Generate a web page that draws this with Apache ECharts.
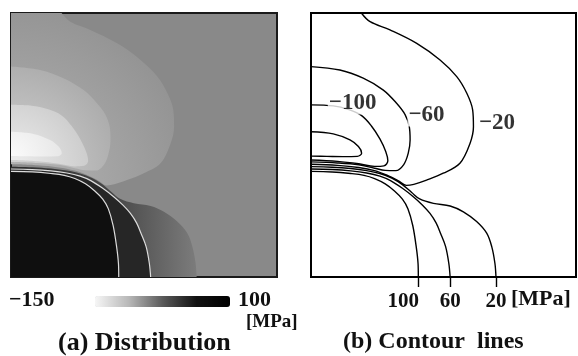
<!DOCTYPE html>
<html><head><meta charset="utf-8">
<script src="https://cdn.jsdelivr.net/npm/echarts@6/dist/echarts.min.js"></script>
<style>html,body{margin:0;padding:0;background:#fff}#c{width:578px;height:356px}</style>
</head><body><div id="c"></div>
<script>
// ---- data (domain: x,y in % of the square plate, origin bottom-left) ----
const contourLevels = [100, 60, 20, -20, -60, -100, -140];
const c100 = [[0,40.0],[8,39.8],[15,39.2],[20,38.5],[24,37.3],[28,35.3],[31.5,32.6],[34.5,29.5],[36.6,25.8],[38.4,19.5],[39.7,11.5],[40.4,5],[40.5,0]];
const c60 = [[0,40.9],[8,40.7],[15,40.2],[21,39.4],[26,38.2],[30,36.5],[34.5,33.6],[38.6,30.4],[42,27.3],[44.9,24.1],[47.2,20.5],[48.9,16.5],[50.8,11.5],[52,5.2],[52.5,0]];
const c20 = [[0,41.8],[8,41.6],[15,41.1],[21,40.3],[26,39.2],[30.5,37.5],[34.5,35],[38,32],[41,29.6],[46.2,27.9],[52.5,26.9],[57.5,24.7],[62.5,21],[66.3,16.6],[68.2,11.5],[69.4,5.2],[69.8,0]];
const cm20 = [[19,100],[22.3,96.7],[29.8,93.6],[39.9,88.5],[48.7,82.2],[55,75.9],[58.8,69.6],[61,63.3],[61.3,56.9],[60,50.6],[56.2,43.1],[49.9,39.3],[43.6,36.7],[38.8,35.1],[36,34.7],[33,36.4],[29,38.4],[24,40.3],[18,41.5],[10,42.3],[0,42.7]];
const cm60 = [[0,79.7],[10.9,78.4],[19.7,75.3],[27.3,70.8],[32.3,65.8],[35.5,61.5],[37.1,56.9],[37.4,51.9],[36.7,46.9],[35,42.6],[32,40.3],[28,40.4],[24,41.2],[18,42.5],[10,43.2],[0,43.6]];
const cm100 = [[0,65.2],[8.4,64.8],[14,63.5],[19,61.2],[22.8,57.2],[26,52.3],[28.2,47.5],[29,44],[27.5,42.1],[24,41.9],[18,42.9],[10,43.8],[0,44.3]];
const cm140 = [[0,55],[8.4,54.2],[14.7,51.9],[17.9,49.4],[19.1,46.9],[17.5,45.7],[12,45.6],[6,45.7],[0,45.8]];
const contourNames = ['100','60','20','−20','−60','−100','−140'];
const inPlotLabels = ['−100','−60','−20'];
const inPlotLabelPos = [[15.7,65.9],[43.6,61.4],[70.2,58.3]];
const bottomLabels = ['100','60','20'];
const colorbarRange = [-150, 100];

// ---- build ----
const contours = [c100, c60, c20, cm20, cm60, cm100, cm140];
const radial = (a, b) => ({type:'radial', x:0, y:1, r:1.15, colorStops:[{offset:0, color:a},{offset:1, color:b}]});
const fillFor = {
  100:'#0f0f0f',
  60:'#262626',
  20:{type:'linear', x:0, y:0, x2:1, y2:0, colorStops:[{offset:0,color:'#2e2e2e'},{offset:0.55,color:'#474747'},{offset:1,color:'#7c7c7c'}]},
  '-20': radial('#b6b6b6','#939393'),
  '-60': radial('#d6d6d6','#ababab'),
  '-100': radial('#eeeeee','#c8c8c8'),
  '-140': radial('#fbfbfb','#e4e4e4')
};
const serif = 'Liberation Serif';
const series = [];
// panel (a): filled bands, negatives first (lighter inside), then positives
[3,4,5,6,2,1,0].forEach(i => {
  const lv = contourLevels[i];
  series.push({
    type:'line', xAxisIndex:0, yAxisIndex:0, data: contours[i], smooth:0.35,
    showSymbol:false, silent:true, lineStyle:{width:0, opacity:0},
    areaStyle:{origin: lv > 0 ? 'start' : 'end', color: fillFor[lv], opacity:1}
  });
});
// panel (a): light contour lines for 100 and 60
[0,1].forEach(i => series.push({
  type:'line', xAxisIndex:0, yAxisIndex:0, data: contours[i], smooth:0.35,
  showSymbol:false, silent:true, lineStyle:{width:1.2, color:'#dcdcdc'}
}));
// dummy target for the colour bar
series.push({type:'scatter', xAxisIndex:0, yAxisIndex:0, data:[], silent:true});
const vmIndex = series.length - 1;
// panel (b): contour lines
contours.forEach((d,i) => series.push({
  name: contourNames[i], type:'line', xAxisIndex:1, yAxisIndex:1, data:d, smooth:0.35,
  showSymbol:false, silent:true, lineStyle:{width:1.4, color:'#000'}, z:3
}));
// panel (b): labels
series.push({
  type:'scatter', xAxisIndex:1, yAxisIndex:1, symbolSize:0, silent:true, z:5,
  data: inPlotLabels.map((t,i) => ({name:t, value:inPlotLabelPos[i]})),
  label:{show:true, position:'inside', formatter:'{b}', fontFamily:serif, fontWeight:'bold',
    fontSize:23, color:'#000', backgroundColor:'#fff', padding:[0,1]}
});

const tickPos = [c100, c60, c20].map(d => d[d.length-1][0]);

const hiddenAxis = (g) => ({gridIndex:g, type:'value', min:0, max:100, show:false});
const option = {
  animation:false,
  backgroundColor:'#fff',
  grid:[
    {left:11, top:13, width:266, height:264, show:true, backgroundColor:'#898989', borderColor:'#1a1a1a', borderWidth:2},
    {left:311, top:13, width:265, height:264, show:true, backgroundColor:'#fff', borderColor:'#000', borderWidth:2}
  ],
  xAxis:[
    hiddenAxis(0),
    {gridIndex:1, type:'value', min:0, max:100, axisLine:{show:false}, splitLine:{show:false},
     axisTick:{show:true, customValues:tickPos, length:10, inside:false, lineStyle:{color:'#000', width:1.4}},
     axisLabel:{show:true, customValues:tickPos, margin:14,
       formatter: v => { const k = tickPos.indexOf(v); return k === 0 ? '{l|' + bottomLabels[k] + '}' : '{n|' + bottomLabels[k] + '}'; },
       rich:{
         l:{fontFamily:serif, fontWeight:'bold', fontSize:21, color:'#111', padding:[0,30,0,0]},
         n:{fontFamily:serif, fontWeight:'bold', fontSize:21, color:'#111'}
       }}}
  ],
  yAxis:[hiddenAxis(0), hiddenAxis(1)],
  visualMap:{
    type:'continuous', seriesIndex:vmIndex, min:colorbarRange[0], max:colorbarRange[1],
    orient:'horizontal', left:80, top:281, itemWidth:11, itemHeight:135,
    calculable:false, hoverLink:false, showLabel:false, text:null,
    inRange:{color:['#f6f6f6','#b8b8b8','#5a5a5a','#111','#000']}
  },
  graphic:[
    {type:'text', left:9, top:289, style:{text:'−' + Math.abs(colorbarRange[0]), font:'bold 22px "Liberation Serif"', fill:'#111'}},
    {type:'text', left:238, top:289, style:{text:String(colorbarRange[1]), font:'bold 22px "Liberation Serif"', fill:'#111'}},
    {type:'text', left:246, top:313, style:{text:'[MPa]', font:'bold 19px "Liberation Serif"', fill:'#111'}},
    {type:'text', left:58, top:330, style:{text:'(a) Distribution', font:'bold 26px "Liberation Serif"', fill:'#111'}},
    {type:'text', left:343, top:330, style:{text:'(b) Contour  lines', font:'bold 24px "Liberation Serif"', fill:'#111'}},
    {type:'text', left:511, top:288, style:{text:'[MPa]', font:'bold 22px "Liberation Serif"', fill:'#111'}}
  ],
  series
};
const chart = echarts.init(document.getElementById('c'));
chart.setOption(option);
</script></body></html>
